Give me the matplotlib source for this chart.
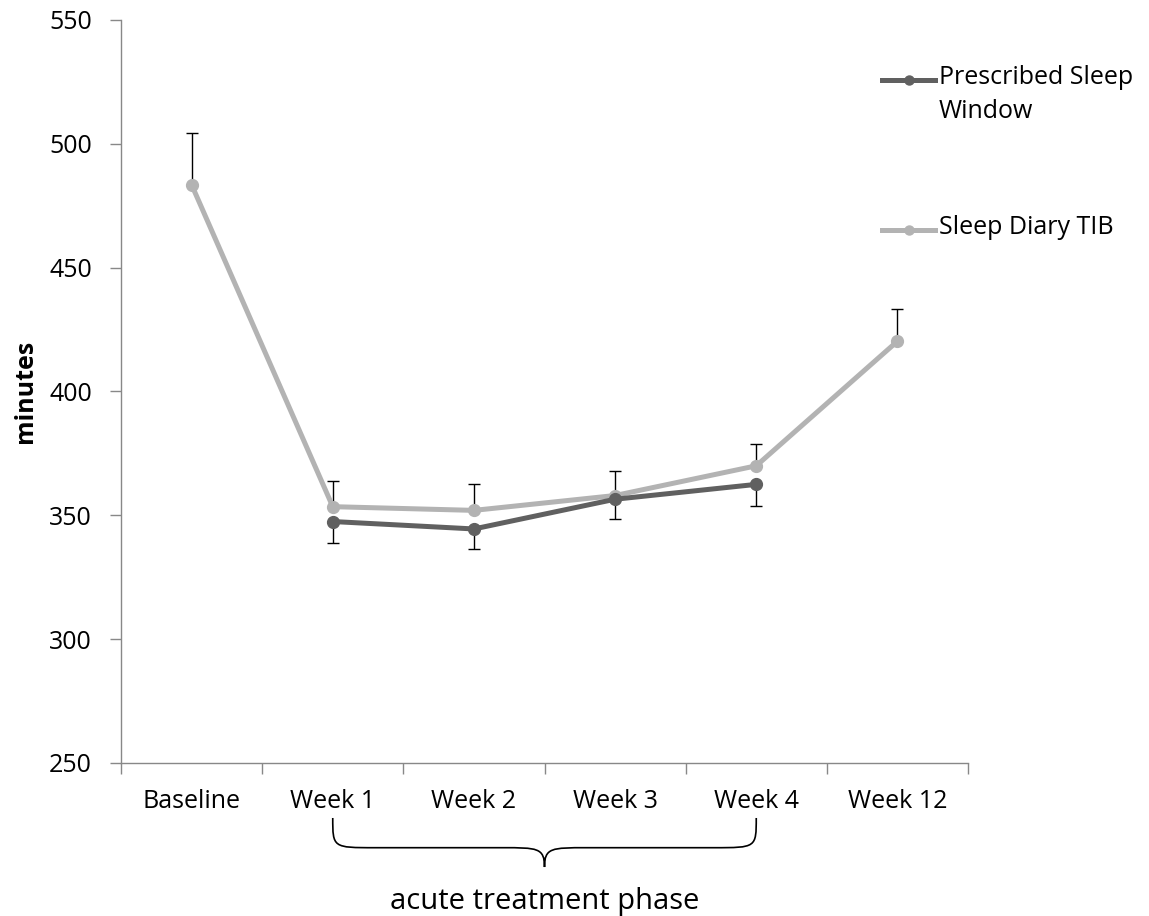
import matplotlib
matplotlib.use("Agg")
import matplotlib.pyplot as plt
from matplotlib.lines import Line2D
from matplotlib.path import Path
from matplotlib.patches import PathPatch
import matplotlib.transforms as mtransforms

plt.rcParams['font.family'] = ['Open Sans', 'DejaVu Sans']

categories = ["Baseline", "Week 1", "Week 2", "Week 3", "Week 4", "Week 12"]
psw_values = [None, 347.5, 344.5, 356.5, 362.5, None]
psw_err_low = [None, 8.5, 8.0, 8.0, 8.7, None]
tib_values = [483.5, 353.5, 352.0, 358.0, 370.0, 420.3]
tib_err_high = [21.0, 10.3, 10.5, 9.7, 8.8, 13.2]
yticks = [250, 300, 350, 400, 450, 500, 550]

dark = "#606060"
light = "#B3B3B3"
FS = 18

fig = plt.figure(figsize=(11.49, 9.16), dpi=100)
ax = fig.add_axes([121/1149, 1 - 763/916, (968-121)/1149, (763-20)/916])

x = list(range(len(categories)))
px = [i for i, v in zip(x, psw_values) if v is not None]
pv = [v for v in psw_values if v is not None]
pe = [e for e in psw_err_low if e is not None]

ax.errorbar(x, tib_values, yerr=[[0]*len(x), tib_err_high], fmt='none',
            ecolor='black', elinewidth=1.0, capsize=4.5, capthick=1.0, zorder=2)
ax.errorbar(px, pv, yerr=[pe, [0]*len(pe)], fmt='none',
            ecolor='black', elinewidth=1.0, capsize=4.5, capthick=1.0, zorder=2)
ax.plot(x, tib_values, color=light, lw=3.6, marker='o', ms=8.5, zorder=3)
ax.plot(px, pv, color=dark, lw=3.6, marker='o', ms=8.5, zorder=4)

ax.set_xlim(-0.5, len(categories) - 0.5)
ax.set_ylim(yticks[0], yticks[-1])
ax.set_yticks(yticks)
ax.set_yticklabels([str(t) for t in yticks], fontsize=FS)
ax.set_xticks(x)
ax.set_xticklabels(categories, fontsize=FS)
ax.set_xticks([i - 0.5 for i in range(len(categories) + 1)], minor=True)
ax.tick_params(axis='x', which='major', length=0, pad=19)
ax.tick_params(axis='x', which='minor', length=8, color='#888888', width=1)
ax.tick_params(axis='y', length=8, color='#888888', width=1, pad=13)
for s in ['top', 'right']:
    ax.spines[s].set_visible(False)
for s in ['left', 'bottom']:
    ax.spines[s].set_color('#888888')
    ax.spines[s].set_linewidth(1)
ax.set_ylabel("minutes", fontsize=FS, fontweight='bold', labelpad=8)

# brace under Week 1 - Week 4
trans = mtransforms.blended_transform_factory(ax.transData, ax.transAxes)
x0, x1 = 1, 4
xm = (x0 + x1) / 2
ytop, yline, ytip = -0.074, -0.114, -0.140
r = 0.3
verts = [(x0, ytop), (x0, yline), (x0, yline), (x0 + r, yline),
         (xm - r, yline), (xm - 0.05, yline), (xm, yline), (xm, ytip),
         (xm, yline), (xm + 0.05, yline), (xm + r, yline),
         (x1 - r, yline), (x1, yline), (x1, yline), (x1, ytop)]
codes = [Path.MOVETO, Path.CURVE4, Path.CURVE4, Path.CURVE4,
         Path.LINETO, Path.CURVE4, Path.CURVE4, Path.CURVE4,
         Path.CURVE4, Path.CURVE4, Path.CURVE4,
         Path.LINETO, Path.CURVE4, Path.CURVE4, Path.CURVE4]
brace = PathPatch(Path(verts, codes), transform=trans, fill=False,
                  edgecolor='black', lw=1.2, clip_on=False)
ax.add_patch(brace)
ax.text(xm, -0.186, "acute treatment phase", transform=trans, ha='center',
        va='center', fontsize=21, clip_on=False)

# legend
def leg(y, color, label):
    yy = 1 - y/916
    fig.add_artist(Line2D([882/1149, 935/1149], [yy, yy],
                          color=color, lw=3.6, transform=fig.transFigure))
    fig.add_artist(Line2D([908.5/1149], [yy], color=color,
                          marker='o', ms=6.5, transform=fig.transFigure))
    fig.text(939/1149, 1 - (y - 15)/916, label, fontsize=FS, va='top',
             ha='left', linespacing=1.45)

leg(80, dark, "Prescribed Sleep\nWindow")
leg(230, light, "Sleep Diary TIB")

fig.savefig("out.png", dpi=100, facecolor='white')
